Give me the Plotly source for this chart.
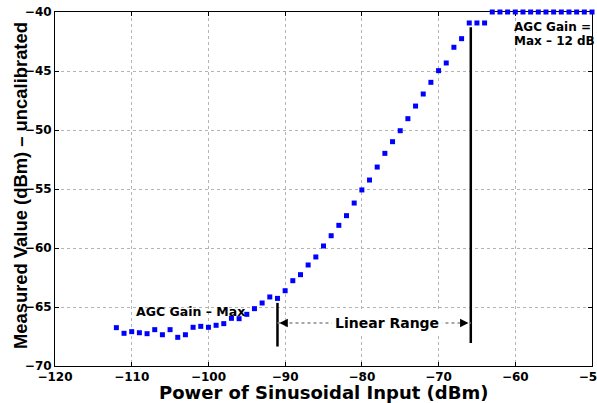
import plotly.graph_objects as go

# Input sweep (dBm) and the corresponding measured detector output (dBm, uncalibrated)
input_power = [
    -112, -111, -110, -109, -108, -107, -106, -105, -104, -103,
    -102, -101, -100, -99, -98, -97, -96, -95, -94, -93,
    -92, -91, -90, -89, -88, -87, -86, -85, -84, -83,
    -82, -81, -80, -79, -78, -77, -76, -75, -74, -73,
    -72, -71, -70, -69, -68, -67, -66, -65, -64, -63,
    -62, -61, -60, -59, -58, -57, -56, -55, -54, -53,
    -52, -51, -50,
]
measured = [
    -66.75, -67.23, -67.09, -67.18, -67.26, -66.92, -67.35, -66.92, -67.57, -67.35,
    -66.72, -66.64, -66.72, -66.55, -66.41, -65.96, -65.99, -65.62, -65.14, -64.66,
    -64.15, -64.27, -63.62, -62.77, -62.26, -61.44, -60.76, -59.83, -58.96, -58.08,
    -57.26, -56.19, -55.08, -54.24, -53.14, -51.98, -50.99, -50.06, -49.04, -47.97,
    -46.95, -45.96, -44.97, -44.32, -42.99, -42.26, -40.93, -40.93, -40.93, -40.0,
    -40.0, -40.0, -40.0, -40.0, -40.0, -40.0, -40.0, -40.0, -40.0, -40.0,
    -40.0, -40.0, -40.0,
]

x_ticks = [-120, -110, -100, -90, -80, -70, -60, -50]
y_ticks = [-70, -65, -60, -55, -50, -45, -40]

# Boundaries of the linear range: (x, y_bottom, y_top)
low_marker = (-91.0, -68.35, -64.65)
high_marker = (-65.8, -68.05, -41.3)
range_arrow_y = -66.35

BOLD = dict(family="DejaVu Sans", weight="bold", color="black")

fig = go.Figure()
fig.add_trace(go.Scatter(
    x=input_power, y=measured, mode="markers",
    marker=dict(symbol="square", size=5, color="#0000ff", line=dict(width=0)),
    cliponaxis=False, showlegend=False,
))

# Vertical markers bounding the linear range
for xv, y0, y1 in (low_marker, high_marker):
    fig.add_shape(type="line", xref="x", yref="y", x0=xv, x1=xv, y0=y0, y1=y1,
                  line=dict(color="black", width=2.5))

# Dotted double arrow between them
fig.add_shape(type="line", xref="x", yref="y",
              x0=low_marker[0], x1=high_marker[0], y0=range_arrow_y, y1=range_arrow_y,
              line=dict(color="#8a8a8a", width=1.5, dash="dot"))
for tip, tail in ((low_marker[0] + 0.25, low_marker[0] + 1.05),
                  (high_marker[0] - 0.3, high_marker[0] - 1.1)):
    fig.add_annotation(x=tip, y=range_arrow_y, ax=tail, ay=range_arrow_y,
                       xref="x", yref="y", axref="x", ayref="y", text="",
                       showarrow=True, arrowhead=2, arrowsize=1.3, arrowwidth=1.3,
                       arrowcolor="black")

fig.add_annotation(x=-76.7, y=range_arrow_y, text="Linear Range", showarrow=False,
                   xref="x", yref="y", xanchor="center", yanchor="middle",
                   bgcolor="white", borderpad=3, font=dict(size=14, **BOLD))
fig.add_annotation(x=-109.7, y=-65.34, text="AGC Gain \u2013 Max", showarrow=False,
                   xref="x", yref="y", xanchor="left", yanchor="middle",
                   font=dict(size=12.5, **BOLD))
fig.add_annotation(x=-60.4, y=-41.27, text="AGC Gain =", showarrow=False,
                   xref="x", yref="y", xanchor="left", yanchor="middle",
                   font=dict(size=12, **BOLD))
fig.add_annotation(x=-60.4, y=-42.46, text="Max \u2013 12 dB", showarrow=False,
                   xref="x", yref="y", xanchor="left", yanchor="middle",
                   font=dict(size=12, **BOLD))

# Axis titles
fig.add_annotation(x=0.5, y=-0.076, xref="paper", yref="paper",
                   text="Power of Sinusoidal Input (dBm)", showarrow=False,
                   xanchor="center", yanchor="middle", font=dict(size=18, **BOLD))
fig.add_annotation(x=-0.064, y=0.51, xref="paper", yref="paper",
                   text="Measured Value (dBm) \u2013 uncalibrated", showarrow=False,
                   textangle=-90, xanchor="center", yanchor="middle",
                   font=dict(size=18.4, family="Liberation Sans", weight="bold", color="black"))

axis_common = dict(
    showline=True, linecolor="black", linewidth=1, mirror="ticks",
    ticks="inside", ticklen=4, tickcolor="black", tickwidth=1,
    showgrid=True, gridcolor="#b4b4b4", gridwidth=1, griddash="dot",
    zeroline=False, layer="below traces", automargin=False,
    tickfont=dict(size=12, **BOLD),
    ticklabeloverflow="allow",
)
fig.update_xaxes(range=[-120, -50], tickvals=x_ticks, **axis_common)
fig.update_yaxes(range=[-70, -40], tickvals=y_ticks, **axis_common)

fig.update_layout(
    width=597, height=403,
    margin=dict(l=55, r=5, t=12, b=37, autoexpand=False),
    paper_bgcolor="white", plot_bgcolor="white",
    showlegend=False,
)

fig.write_html("out.html")
